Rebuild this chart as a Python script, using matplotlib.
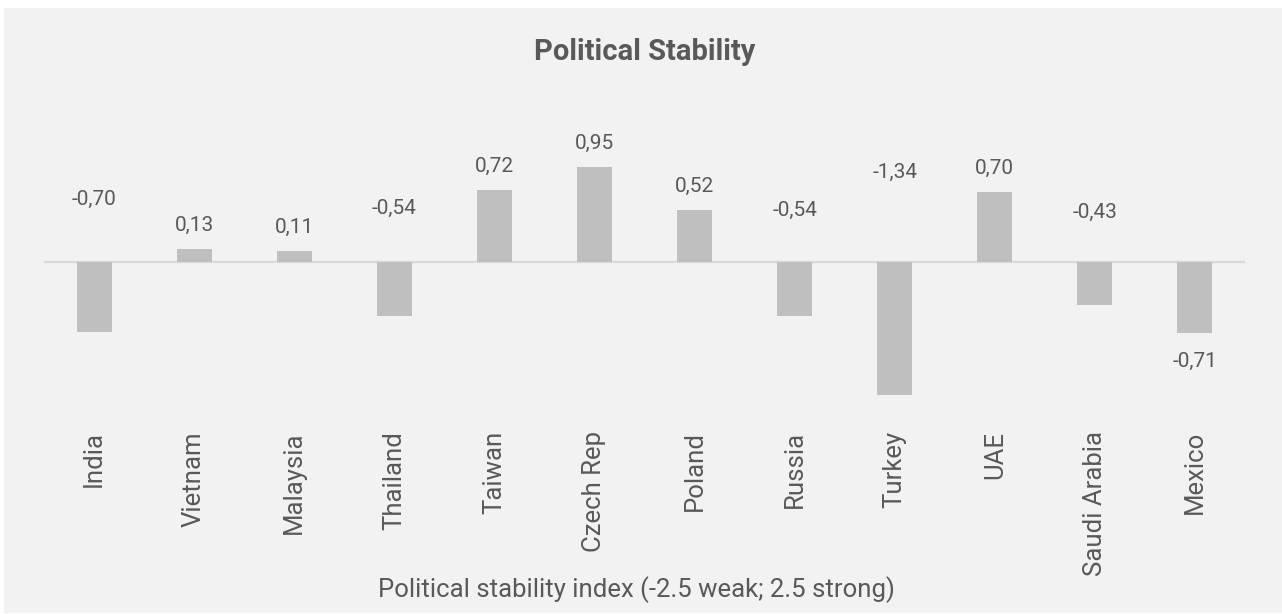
import matplotlib
matplotlib.use("Agg")
import matplotlib.pyplot as plt
from matplotlib.patches import Rectangle

# Political stability index by country
countries = ["India", "Vietnam", "Malaysia", "Thailand", "Taiwan", "Czech Rep",
             "Poland", "Russia", "Turkey", "UAE", "Saudi Arabia", "Mexico"]
stability = [-0.70, 0.13, 0.11, -0.54, 0.72, 0.95, 0.52, -0.54, -1.34, 0.70, -0.43, -0.71]

# vertical placement of the value labels (data units, label centre)
label_y = [0.63, 0.37, 0.35, 0.54, 0.96, 1.19, 0.76, 0.52, 0.90, 0.94, 0.50, -1.00]

title = "Political Stability"
x_title = "Political stability index (-2.5 weak; 2.5 strong)"

TEXT = "#595959"
BAR = "#bfbfbf"
PANEL = "#f2f2f2"
FONT = ["Roboto", "DejaVu Sans"]

plt.rcParams["font.family"] = FONT

W, H = 1282, 614
fig = plt.figure(figsize=(W / 100, H / 100), dpi=100, facecolor="white")

# light grey panel behind the chart
fig.patches.append(Rectangle((4 / W, 1 / H), 1278 / W, 605 / H,
                             transform=fig.transFigure, facecolor=PANEL,
                             edgecolor="none", zorder=-10))

ax_left, ax_right = 44, 1245
ax_top, ax_bottom = 100, 420
ax = fig.add_axes([ax_left / W, (H - ax_bottom) / H,
                   (ax_right - ax_left) / W, (ax_bottom - ax_top) / H])
ax.set_facecolor("none")
ax.set_zorder(5)

x = range(len(countries))
ax.bar(x, stability, width=0.35, color=BAR, zorder=2)
ax.axhline(0, color="#d9d9d9", lw=1.6, zorder=1)

for xi, v, ly in zip(x, stability, label_y):
    ax.text(xi, ly, f"{v:.2f}".replace(".", ","), ha="center", va="center",
            fontsize=15, color=TEXT)

ax.set_xlim(-0.5, len(countries) - 0.5)
zero_px = 262
scale = 99.5
ax.set_ylim(-(ax_bottom - zero_px) / scale, (zero_px - ax_top) / scale)

ax.set_xticks(list(x))
ax.set_xticklabels(countries, rotation=90, fontsize=18.5, color=TEXT,
                   va="top", ha="center")
ax.tick_params(axis="x", length=0, pad=8)
ax.set_yticks([])
for s in ax.spines.values():
    s.set_visible(False)

fig.text((ax_left + ax_right) / 2 / W, 1 - 52 / H, title, ha="center",
         va="center", fontsize=21, fontweight="bold", color=TEXT)
fig.text(636 / W, 1 - 590 / H, x_title, ha="center", va="center",
         fontsize=18.5, color=TEXT)

fig.savefig("out.png", dpi=100, facecolor="white")
